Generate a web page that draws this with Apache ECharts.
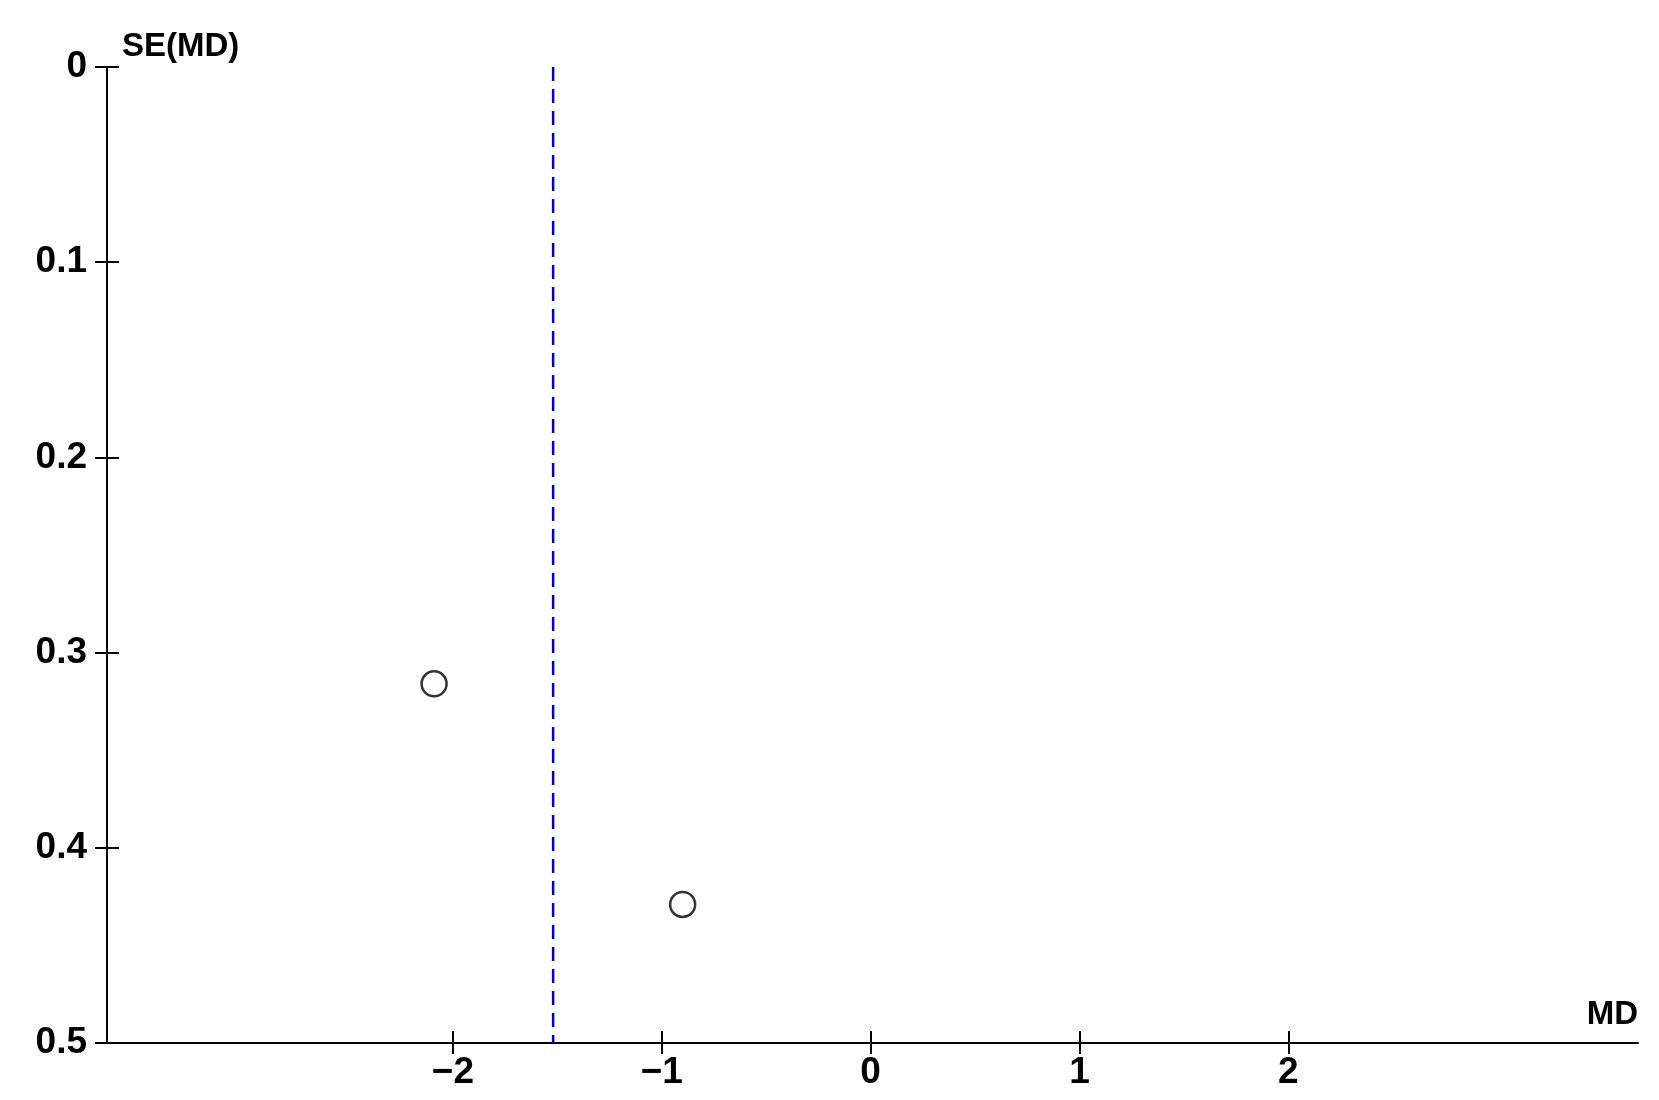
<!DOCTYPE html>
<html>
<head>
<meta charset="utf-8">
<script src="https://cdn.jsdelivr.net/npm/echarts@6/dist/echarts.min.js"></script>
<style>
html,body{margin:0;padding:0;background:#fff;}
#chart{width:1659px;height:1100px;}
</style>
</head>
<body>
<div id="chart"></div>
<script>
// Study estimates (mean difference) and their standard errors
const studyMD = [-2.09, -0.90];
const studySE = [0.316, 0.429];
// Pooled estimate (vertical dashed line)
const pooledMD = -1.52;
const seRange = [0, 0.5];
// Axis ticks
const xTicks = [-2, -1, 0, 1, 2];
const yTicks = [0, 0.1, 0.2, 0.3, 0.4, 0.5];
const xRange = [-3.656, 3.674];
const xName = 'MD';
const yName = 'SE(MD)';

const FONT = 'Liberation Sans';
const chart = echarts.init(document.getElementById('chart'));

const points = studyMD.map((m, i) => [m, studySE[i]]);
const pooledLine = seRange.map(s => [pooledMD, s]);

const fmtX = v => String(v).replace('-', '\u2212');

chart.setOption({
  animation: false,
  backgroundColor: '#ffffff',
  grid: { left: 107, right: 21, top: 67, bottom: 57, containLabel: false },
  xAxis: [
    {
      type: 'value', min: xRange[0], max: xRange[1], position: 'bottom',
      name: xName, nameLocation: 'end', nameGap: 0,
      nameTextStyle: { fontFamily: FONT, fontWeight: 'bold', fontSize: 33, color: '#000',
        align: 'right', verticalAlign: 'bottom', padding: [0, 0, 12, 0] },
      axisLine: { show: true, onZero: false, lineStyle: { color: '#000', width: 2 } },
      axisTick: { show: true, inside: false, length: 11, customValues: xTicks, lineStyle: { color: '#000', width: 2 } },
      axisLabel: { show: true, customValues: xTicks, formatter: fmtX, margin: 11,
        fontFamily: FONT, fontWeight: 'bold', fontSize: 37, color: '#000' },
      splitLine: { show: false }
    },
    {
      type: 'value', min: xRange[0], max: xRange[1], position: 'bottom',
      axisLine: { show: false, onZero: false },
      axisTick: { show: true, inside: true, length: 12, customValues: xTicks, lineStyle: { color: '#000', width: 2 } },
      axisLabel: { show: false },
      splitLine: { show: false }
    }
  ],
  yAxis: [
    {
      type: 'value', min: seRange[0], max: seRange[1], interval: 0.1, inverse: true, position: 'left',
      name: yName, nameLocation: 'start', nameGap: 4,
      nameTextStyle: { fontFamily: FONT, fontWeight: 'bold', fontSize: 33, color: '#000',
        align: 'left', verticalAlign: 'bottom', padding: [0, 0, 0, 15] },
      axisLine: { show: true, onZero: false, lineStyle: { color: '#000', width: 2 } },
      axisTick: { show: true, inside: false, length: 12, customValues: yTicks, lineStyle: { color: '#000', width: 2 } },
      axisLabel: { show: true, customValues: yTicks, margin: 20,
        fontFamily: FONT, fontWeight: 'bold', fontSize: 37, color: '#000' },
      splitLine: { show: false }
    },
    {
      type: 'value', min: seRange[0], max: seRange[1], interval: 0.1, inverse: true, position: 'left',
      axisLine: { show: false, onZero: false },
      axisTick: { show: true, inside: true, length: 12, customValues: yTicks, lineStyle: { color: '#000', width: 2 } },
      axisLabel: { show: false },
      splitLine: { show: false }
    }
  ],
  series: [
    {
      type: 'line', xAxisIndex: 0, yAxisIndex: 0,
      data: pooledLine, symbol: 'none', silent: true,
      lineStyle: { color: '#0000CC', width: 2.5, type: [14, 8] },
      z: 2
    },
    {
      type: 'scatter', xAxisIndex: 0, yAxisIndex: 0,
      data: points, symbol: 'circle', symbolSize: 25,
      itemStyle: { color: '#ffffff', borderColor: '#000000', borderWidth: 2.5 },
      z: 3
    }
  ]
});
</script>
</body>
</html>
